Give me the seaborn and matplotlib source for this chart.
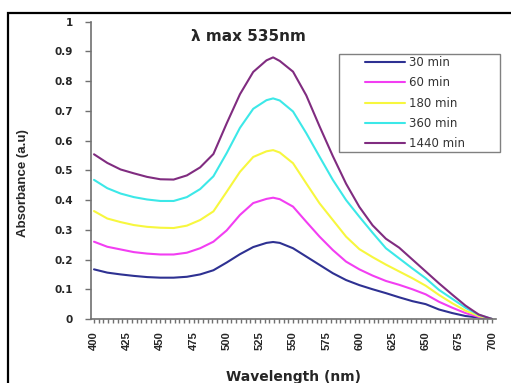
# spectre UV-vis, absorbance en fonction du temps
import pandas as pd
import matplotlib
matplotlib.use('Agg')
import matplotlib.pyplot as plt
from matplotlib.patches import Rectangle
from matplotlib.ticker import MultipleLocator
import seaborn as sns

# %%
# données (pas de 10 nm, + le pic à 535 nm)
wavelength = [400, 410, 420, 430, 440, 450, 460, 470, 480, 490,
              500, 510, 520, 530, 535, 540, 550, 560, 570, 580, 590,
              600, 610, 620, 630, 640, 650, 660, 670, 680, 690, 700]

abs_30 = [0.167, 0.156, 0.150, 0.145, 0.141, 0.139, 0.139, 0.142, 0.150, 0.164,
          0.190, 0.218, 0.242, 0.256, 0.259, 0.256, 0.238, 0.210, 0.182, 0.154, 0.131,
          0.114, 0.100, 0.087, 0.073, 0.060, 0.050, 0.032, 0.020, 0.010, 0.005, 0.0]
abs_60 = [0.260, 0.243, 0.234, 0.225, 0.220, 0.217, 0.217, 0.223, 0.238, 0.260,
          0.298, 0.350, 0.390, 0.404, 0.408, 0.403, 0.378, 0.327, 0.277, 0.232, 0.193,
          0.167, 0.146, 0.128, 0.115, 0.100, 0.083, 0.058, 0.038, 0.020, 0.007, 0.0]
abs_180 = [0.363, 0.338, 0.326, 0.316, 0.310, 0.307, 0.306, 0.314, 0.333, 0.362,
           0.428, 0.495, 0.545, 0.564, 0.568, 0.560, 0.524, 0.456, 0.389, 0.333, 0.277,
           0.235, 0.208, 0.183, 0.160, 0.137, 0.112, 0.081, 0.053, 0.028, 0.010, 0.0]
abs_360 = [0.468, 0.440, 0.422, 0.410, 0.402, 0.397, 0.397, 0.410, 0.437, 0.480,
           0.558, 0.643, 0.707, 0.736, 0.742, 0.735, 0.698, 0.625, 0.546, 0.468, 0.400,
           0.344, 0.290, 0.238, 0.204, 0.170, 0.137, 0.098, 0.068, 0.038, 0.014, 0.0]
abs_1440 = [0.554, 0.525, 0.503, 0.490, 0.478, 0.470, 0.469, 0.483, 0.510, 0.555,
            0.658, 0.756, 0.831, 0.870, 0.880, 0.868, 0.832, 0.752, 0.648, 0.548, 0.455,
            0.377, 0.315, 0.270, 0.240, 0.200, 0.160, 0.120, 0.082, 0.045, 0.015, 0.0]

series_names = ['30 min', '60 min', '180 min', '360 min', '1440 min']
series_values = [abs_30, abs_60, abs_180, abs_360, abs_1440]
colors = ['#2e3192', '#f23ef2', '#f7f73e', '#3ce8e8', '#802c80']

df = pd.concat([
    pd.DataFrame({'Wavelength': wavelength, 'Absorbance': vals, 'Temps': name})
    for name, vals in zip(series_names, series_values)
])

# %%
sns.set_style('white')

fig, ax = plt.subplots(figsize=(5.11, 3.83), dpi=100)
fig.subplots_adjust(left=90.7/511, right=496/511, bottom=1-319/383, top=1-21.7/383)

sns.lineplot(
    data=df,
    x='Wavelength',
    y='Absorbance',
    hue='Temps',
    hue_order=series_names,
    palette=dict(zip(series_names, colors)),
    linewidth=1.5,
    ax=ax
)
for line in ax.get_lines():
    line.set_solid_joinstyle('round')

ax.set_xlim(397.5, 703)
ax.set_ylim(0, 1)

# axes
sns.despine(ax=ax)
for side in ['left', 'bottom']:
    ax.spines[side].set_color('#707070')
    ax.spines[side].set_linewidth(1.2)

ax.set_yticks([i / 10 for i in range(11)])
ax.set_yticklabels(['0'] + [f'{i / 10:.1f}' for i in range(1, 10)] + ['1'],
                   fontsize=7.5, fontweight='bold', family='DejaVu Sans')
ax.tick_params(axis='y', direction='out', length=4, width=1, color='#707070', pad=9, left=True)

ax.set_xticks(list(range(400, 701, 25)))
ax.set_xticklabels([str(v) for v in range(400, 701, 25)], rotation=90,
                   fontsize=8, fontweight='bold', family=['Liberation Sans Narrow', 'Liberation Sans'])
ax.xaxis.set_minor_locator(MultipleLocator(25 / 7))
ax.tick_params(axis='x', which='both', direction='out', length=3, width=1,
               color='#707070', pad=6, bottom=True)

ax.set_xlabel('Wavelength (nm)', fontsize=10, fontweight='bold', family='DejaVu Sans', labelpad=14)
ax.set_ylabel('Absorbance (a.u)', fontsize=9.5, fontweight='bold',
              family=['Liberation Sans Narrow', 'Liberation Sans'])
ax.yaxis.set_label_coords(-0.153, 0.456)

ax.text(0.39, 0.949, 'λ max 535nm', transform=ax.transAxes, ha='center', va='center',
        fontsize=11, fontweight='bold', family='DejaVu Sans')

# légende
handles, labels = ax.get_legend_handles_labels()
ax.legend(handles, labels, loc='upper left', bbox_to_anchor=(365/511, 1-56/383),
          bbox_transform=fig.transFigure, frameon=False, borderpad=0, borderaxespad=0,
          handlelength=3.4, handletextpad=0.35, labelspacing=0.62,
          prop={'family': 'DejaVu Sans', 'size': 8.5}, labelcolor='#333333')
fig.add_artist(Rectangle((339/511, 1-152/383), 161/511, 98/383, transform=fig.transFigure,
                         fill=False, edgecolor='#808080', linewidth=1))

# cadre noir de l'image
fig.add_artist(Rectangle((8/511, -0.05), 1.0, 1-13/383+0.05, transform=fig.transFigure,
                         fill=False, edgecolor='black', linewidth=1.6, clip_on=False))

plt.savefig('out.png', dpi=100)
